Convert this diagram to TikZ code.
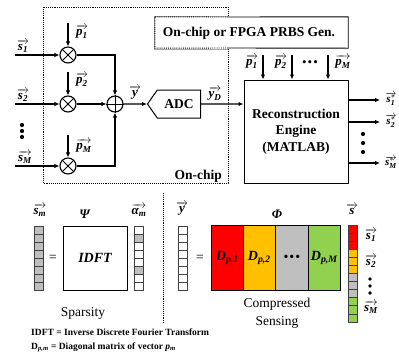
\documentclass[tikz,border=0pt]{standalone}
\usepackage{amsmath}
\usepackage{fontspec}
\setmainfont{LiberationSerif}[Extension=.ttf,UprightFont=*-Regular,BoldFont=*-Bold,ItalicFont=*-Italic,BoldItalicFont=*-BoldItalic]
\usetikzlibrary{arrows.meta,shapes.symbols}
\newcommand{\bi}[1]{\textbf{\textit{#1}}}
\newcommand{\vecl}[1]{$\overrightarrow{#1}$}
\definecolor{cred}{RGB}{255,0,0}
\definecolor{corange}{RGB}{255,192,0}
\definecolor{cgray}{RGB}{191,191,191}
\definecolor{cgreen}{RGB}{146,208,80}
\begin{document}
\begin{tikzpicture}[x=1pt,y=-1pt,
  conn/.style={line width=1.1pt,-{Latex[length=5pt,width=4.5pt]}},
  mult/.style={circle,draw,line width=1.1pt,minimum size=16pt,inner sep=0pt},
  lab/.style={font=\fontsize{13}{15}\selectfont,inner sep=0pt},
  olab/.style={font=\fontsize{11}{13}\selectfont,inner sep=0pt},
  big/.style={font=\fontsize{13.5}{16.5}\selectfont\bfseries},
  reg/.style={font=\fontsize{13.5}{16.5}\selectfont},
  note/.style={font=\fontsize{9.5}{11}\selectfont\bfseries,anchor=west,inner sep=0pt},
  cell/.style={draw=black!75,line width=0.7pt},
  blk/.style={draw,line width=0.8pt,minimum width=32pt,minimum height=65pt,anchor=north west,inner sep=0pt,font=\fontsize{14}{16}\selectfont}
]
\useasboundingbox (0,0) rectangle (399,354);

% ---------- on-chip region ----------
\draw[densely dotted,line width=0.9pt] (43,7) rectangle (228,183);
\node[big,anchor=east,inner sep=0pt] (onchip) at (222,176) {On-chip};

% PRBS generator box
\node[fill=white,minimum width=193pt,minimum height=31pt,inner sep=0pt] (prbs) at (251.5,32.5) {};
\node[big,inner sep=0pt] (prbst) at (249,33) {On-chip or FPGA PRBS Gen.};
\draw[line width=0.9pt] (228,17) -- (prbs.north east) -- (prbs.south east) -- (228,48);
\draw[black!35,line width=0.5pt] (228,16) -- (154,16) -- (154,49) -- (228,49);
\draw[densely dotted,line width=0.9pt] (228,17) -- (prbs.north west) -- (prbs.south west) -- (228,48);

% multipliers
\node[mult] (m1) at (68,55) {};
\node[mult] (m2) at (68,104) {};
\node[mult] (mM) at (68,166) {};
\foreach \m in {m1,m2,mM}{
  \draw[line width=1pt] (\m.north west) -- (\m.south east) (\m.north east) -- (\m.south west);
}
% adder
\node[mult] (add) at (115,104) {};
\draw[line width=1pt] (add.north) -- (add.south) (add.west) -- (add.east);

% inputs
\coordinate (s1in) at (15,55);
\coordinate (s2in) at (15,104);
\coordinate (sMin) at (15,166);
\draw[conn] (s1in) -- (m1);
\draw[conn] (s2in) -- (m2);
\draw[conn] (sMin) -- (mM);
\node[lab] (ls1) at (23,46) {\vecl{\bi{s}_{\bi{1}}}};
\node[lab] (ls2) at (23,95) {\vecl{\bi{s}_{\bi{2}}}};
\node[lab] (lsM) at (25,157) {\vecl{\bi{s}_{\bi{M}}}};
\fill (22,125) circle[radius=2.1pt] (22,131) circle[radius=2.1pt] (22,137) circle[radius=2.1pt];

% p inputs
\coordinate (p1t) at (68,23);
\coordinate (p2t) at (68,72);
\coordinate (pMt) at (68,135);
\draw[conn] (p1t) -- (m1);
\draw[conn] (p2t) -- (m2);
\draw[conn] (pMt) -- (mM);
\node[lab] (lp1) at (82,32) {\vecl{\bi{p}_{\bi{1}}}};
\node[lab] (lp2) at (82,80) {\vecl{\bi{p}_{\bi{2}}}};
\node[lab] (lpM) at (84,146) {\vecl{\bi{p}_{\bi{M}}}};

% to adder
\draw[conn] (m1) -| (add);
\draw[conn] (m2) -- (add);
\draw[conn] (mM) -| (add);

% ADC
\node[signal,signal to=west,signal from=nowhere,draw,line width=1pt,
      minimum width=53pt,minimum height=28pt,signal pointer angle=110,
      big,anchor=east,inner sep=1pt] (adc) at (201,104) {ADC};
\draw[conn] (add) -- (adc);
\node[lab] (ly) at (135,93) {\vecl{\bi{y}}};

% reconstruction engine
\node[draw,line width=1pt,minimum width=104pt,minimum height=103pt,big,align=center,inner sep=0pt] (rec) at (296,131.5) {Reconstruction\\Engine\\(MATLAB)};
\draw[conn] (adc) -- (adc -| rec.west);
\node[lab] (lyD) at (215,94) {\vecl{\bi{y}_{\bi{D}}}};

\coordinate (q1) at (263,55);
\coordinate (q2) at (292,55);
\coordinate (qM) at (328,55);
\draw[conn] (q1) -- (q1 |- rec.north);
\draw[conn] (q2) -- (q2 |- rec.north);
\draw[conn] (qM) -- (qM |- rec.north);
\node[lab] (lq1) at (252,62) {\vecl{\bi{p}_{\bi{1}}}};
\node[lab] (lq2) at (281,62) {\vecl{\bi{p}_{\bi{2}}}};
\node[lab] (lqM) at (343,62) {\vecl{\bi{p}_{\bi{M}}}};
\node[lab] (qdots) at (310,64) {\textbullet\hspace{1pt}\textbullet\hspace{1pt}\textbullet};

\coordinate (o1) at (380,100);
\coordinate (o2) at (380,122);
\coordinate (oM) at (380,163);
\draw[conn] (o1 -| rec.east) -- (o1);
\draw[conn] (o2 -| rec.east) -- (o2);
\draw[conn] (oM -| rec.east) -- (oM);
\node[olab] (lo1) at (391,99) {\vecl{\bi{s}^{\smash{*}}_{\bi{1}}}};
\node[olab] (lo2) at (391,121) {\vecl{\bi{s}^{\smash{*}}_{\bi{2}}}};
\node[olab] (loM) at (391,162) {\vecl{\bi{s}^{\smash{*}}_{\bi{M}}}};
\fill (363,134) circle[radius=2.1pt] (363,143) circle[radius=2.1pt] (363,152) circle[radius=2.1pt];

% ---------- bottom: sparsity ----------
\foreach \i in {0,...,7}
  \draw[cell,fill=cgray] (34,{226+8*\i}) rectangle (43,{234+8*\i});
\node[lab] (lsm) at (40,210) {\vecl{\bi{s}_{\bi{m}}}};
\node[reg] (eq1) at (53,258) {=};
\node[draw,line width=1pt,minimum size=64pt,inner sep=0pt,font=\fontsize{14}{16}\selectfont\bfseries\itshape] (idft) at (95,258) {IDFT};
\node[lab] (lpsi) at (85,214) {\bi{Ψ}};
\foreach \i in {0,...,7}{
  \ifnum\i=1 \def\cc{cgray}\else\ifnum\i=5 \def\cc{cgray}\else\def\cc{white}\fi\fi
  \draw[cell,fill=\cc] (134,{226+8*\i}) rectangle (143,{234+8*\i});
}
\node[lab] (lalpha) at (139,210) {\vecl{\bi{α}_{\bi{m}}}};
\node[reg] (spars) at (83,313) {Sparsity};

\draw[densely dotted,line width=0.9pt] (163,193) -- (163,323);

% ---------- bottom: compressed sensing ----------
\foreach \i in {0,...,7}
  \draw[cell,fill=white] (178,{226+8*\i}) rectangle (187,{234+8*\i});
\node[lab] (lyv) at (182,209) {\vecl{\bi{y}}};
\node[reg] (eq2) at (200,258) {=};

\node[blk,fill=cred] (d1) at (211,225) {$\bi{D}_{\bi{p,1}}$};
\node[blk,fill=corange] (d2) at (243,225) {$\bi{D}_{\bi{p,2}}$};
\node[blk,fill=cgray,minimum width=33pt] (d3) at (275,225) {\textbullet\hspace{1pt}\textbullet\hspace{1pt}\textbullet};
\node[blk,fill=cgreen] (d4) at (308,225) {$\bi{D}_{\bi{p,M}}$};
\node[lab] (lphi) at (277,214) {\bi{Φ}};

\foreach \i/\cc in {0/cred,1/cred,2/cred,3/corange,4/corange,5/corange,6/cgray,7/cgray,8/cgray,9/cgreen,10/cgreen,11/cgreen}
  \draw[cell,fill=\cc] (348,{225+8.083*\i}) rectangle (357,{233.083+8.083*\i});
\node[lab] (lsv) at (352,209) {\vecl{\bi{s}}};
\node[lab] (lc1) at (371,235) {\vecl{\bi{s}_{\bi{1}}}};
\node[lab] (lc2) at (371,261) {\vecl{\bi{s}_{\bi{2}}}};
\node[lab] (lcM) at (371,307) {\vecl{\bi{s}_{\bi{M}}}};
\fill (370,279) circle[radius=1.8pt] (370,286) circle[radius=1.8pt] (370,293) circle[radius=1.8pt];

\node[reg] (comp) at (277,304) {Compressed};
\node[reg] (sens) at (277,322) {Sensing};

% notes
\node[note] (n1) at (31,332) {IDFT = Inverse Discrete Fourier Transform};
\node[note] (n2) at (31,347) {D$_{\bi{p,m}}$ = Diagonal matrix of vector \bi{p}$_{\bi{m}}$};
\end{tikzpicture}
\end{document}
